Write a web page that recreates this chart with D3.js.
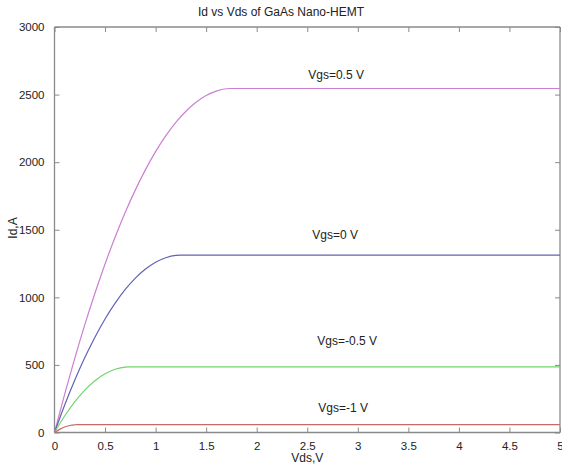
<!DOCTYPE html>
<html>
<head>
<meta charset="utf-8">
<script src="https://cdn.jsdelivr.net/npm/d3@7"></script>
<style>
  html, body { margin: 0; padding: 0; background: #fff; }
  svg { display: block; font-family: "Liberation Sans", Arial, sans-serif; }
</style>
</head>
<body>
<svg id="chart" width="562" height="465"></svg>
<script>
// Drain voltage samples (V) and drain current (A) for each gate bias
const vdsHigh = [0, 0.1, 0.2, 0.3, 0.4, 0.5, 0.6, 0.7, 0.8, 0.9, 1.0, 1.1, 1.2, 1.3, 1.4, 1.5, 1.6, 1.7, 1.75, 5];
const idVgsP05 = [0, 282, 548, 798, 1030, 1247, 1446, 1629, 1795, 1945, 2078, 2194, 2294, 2377, 2443, 2493, 2526, 2543, 2545, 2545];

const vdsMid = [0, 0.1, 0.2, 0.3, 0.4, 0.5, 0.6, 0.7, 0.8, 0.9, 1.0, 1.1, 1.2, 1.25, 5];
const idVgs0 = [0, 202, 386, 554, 705, 840, 957, 1058, 1142, 1209, 1260, 1293, 1310, 1312, 1312];

const vdsLow = [0, 0.1, 0.2, 0.3, 0.4, 0.5, 0.6, 0.7, 0.74, 5];
const idVgsM05 = [0, 122, 227, 314, 383, 434, 468, 484, 485, 485];

const vdsMin = [0, 0.05, 0.1, 0.15, 0.2, 0.22, 5];
const idVgsM1 = [0, 23, 41, 52, 57, 58, 58];

const seriesNames = ["Vgs=0.5 V", "Vgs=0 V", "Vgs=-0.5 V", "Vgs=-1 V"];
const xTicks = [0, 0.5, 1, 1.5, 2, 2.5, 3, 3.5, 4, 4.5, 5];
const yTicks = [0, 500, 1000, 1500, 2000, 2500, 3000];

const titleText = "Id vs Vds of GaAs Nano-HEMT";
const xLabelText = "Vds,V";
const yLabelText = "Id,A";

// Plot layout
const margin = { left: 54.5, right: 2, top: 27, bottom: 32.5 };
const W = 562, H = 465;
const svg = d3.select("#chart");

const x = d3.scaleLinear().domain([0, 5]).range([margin.left, W - margin.right]);
const y = d3.scaleLinear().domain([0, 3000]).range([H - margin.bottom, margin.top]);

const series = [
  { name: seriesNames[0], xs: vdsHigh, ys: idVgsP05, color: "#cc7fd2", lx: 2.51, ly: 2643 },
  { name: seriesNames[1], xs: vdsMid,  ys: idVgs0,   color: "#6262b4", lx: 2.55, ly: 1460 },
  { name: seriesNames[2], xs: vdsLow,  ys: idVgsM05, color: "#72d372", lx: 2.60, ly: 677 },
  { name: seriesNames[3], xs: vdsMin,  ys: idVgsM1,  color: "#c86a6a", lx: 2.61, ly: 182 }
];

const axisColor = "#8a8a8a";
const tickLen = 5;

// Axes box with inward ticks on all four sides
const xBottom = d3.axisBottom(x).tickValues(xTicks).tickSize(-tickLen).tickPadding(9).tickFormat(d3.format("~g"));
const xTop = d3.axisTop(x).tickValues(xTicks).tickSize(-tickLen).tickFormat("");
const yLeft = d3.axisLeft(y).tickValues(yTicks).tickSize(-tickLen).tickPadding(10).tickFormat(d3.format("d"));
const yRight = d3.axisRight(y).tickValues(yTicks).tickSize(-tickLen).tickFormat("");

function styleAxis(g) {
  g.select(".domain").attr("stroke", axisColor).attr("stroke-width", 1.3);
  g.selectAll(".tick line").attr("stroke", axisColor).attr("stroke-width", 1);
  g.selectAll(".tick text").attr("fill", "#222").style("font-size", "11.5px")
    .style("font-family", "'Liberation Sans', Arial, sans-serif");
}

svg.append("g").attr("transform", `translate(0,${y(0)})`).call(xBottom).call(styleAxis)
  .call(g => g.select(".domain").attr("d", `M${x(0)},0H${x(5)}`));
svg.append("g").attr("transform", `translate(0,${y(3000)})`).call(xTop).call(styleAxis)
  .call(g => g.select(".domain").attr("d", `M${x(0)},0H${x(5)}`));
svg.append("g").attr("transform", `translate(${x(0)},0)`).call(yLeft).call(styleAxis)
  .call(g => g.select(".domain").attr("d", `M0,${y(0)}V${y(3000)}`));
svg.append("g").attr("transform", `translate(${x(5)},0)`).call(yRight).call(styleAxis)
  .call(g => g.select(".domain").attr("d", `M0,${y(0)}V${y(3000)}`));

// I-V curves
const line = d3.line().x(d => x(d[0])).y(d => y(d[1])).curve(d3.curveMonotoneX);
series.forEach(s => {
  const pts = s.xs.map((v, i) => [v, s.ys[i]]);
  svg.append("path").datum(pts)
    .attr("d", line)
    .attr("fill", "none")
    .attr("stroke", s.color)
    .attr("stroke-width", 1.2);
  svg.append("text")
    .attr("x", x(s.lx)).attr("y", y(s.ly))
    .attr("dy", "0.35em")
    .attr("fill", "#222")
    .style("font-size", "12px")
    .text(s.name);
});

// Title and axis labels
svg.append("text").attr("x", 281).attr("y", 16).attr("text-anchor", "middle")
  .attr("fill", "#222").style("font-size", "12px").text(titleText);
svg.append("text").attr("x", (x(0) + x(5)) / 2).attr("y", 462).attr("text-anchor", "middle")
  .attr("fill", "#222").style("font-size", "12px").text(xLabelText);
svg.append("text").attr("transform", `translate(17,228) rotate(-90)`).attr("text-anchor", "middle")
  .attr("fill", "#222").style("font-size", "12px").text(yLabelText);
</script>
</body>
</html>
